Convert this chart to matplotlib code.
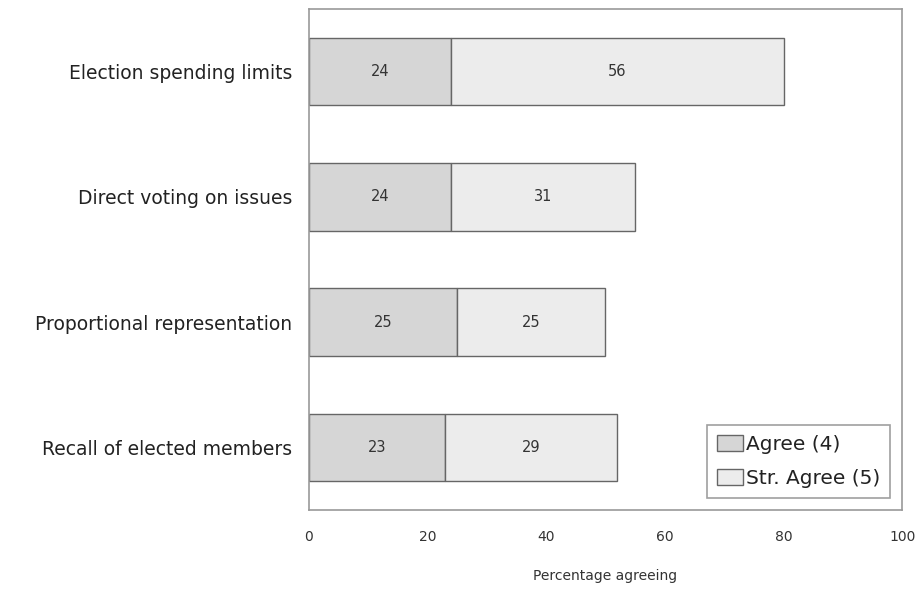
import matplotlib.pyplot as plt

# Survey items, top to bottom
categories = ['Election spending limits', 'Direct voting on issues',
              'Proportional representation', 'Recall of elected members']
agree = [24, 24, 25, 23]
str_agree = [56, 31, 25, 29]
xticks = [0, 20, 40, 60, 80, 100]

fig = plt.figure(figsize=(9.16, 5.89), dpi=100)
ax = fig.add_axes([0.337, 0.134, 0.648, 0.851])

ypos = list(range(len(categories)))[::-1]

ax.barh(ypos, agree, height=0.54, color='#d6d6d6', edgecolor='#666666',
        linewidth=1, label='Agree (4)')
ax.barh(ypos, str_agree, left=agree, height=0.54, color='#ececec',
        edgecolor='#666666', linewidth=1, label='Str. Agree (5)')

# Values in the middle of each segment
for y, a, s in zip(ypos, agree, str_agree):
    ax.text(a / 2, y, str(a), ha='center', va='center', fontsize=10.5, color='#333333')
    ax.text(a + s / 2, y, str(s), ha='center', va='center', fontsize=10.5, color='#333333')

ax.set_xlim(0, 100)
ax.set_ylim(-0.5, 3.5)
ax.set_xticks(xticks)
ax.set_yticks(ypos)
ax.set_yticklabels(categories, fontsize=13.5, color='#222222')
ax.tick_params(axis='x', length=0, pad=14, labelsize=10, labelcolor='#333333')
ax.tick_params(axis='y', length=0, pad=12)
ax.set_xlabel('Percentage agreeing', fontsize=10, color='#333333', labelpad=18)

for sp in ax.spines.values():
    sp.set_color('#999999')
    sp.set_linewidth(1.2)

leg = ax.legend(loc='lower right', fontsize=14.5, fancybox=False, frameon=True,
                handlelength=1.3, handleheight=0.8, handletextpad=0.15,
                borderpad=0.5, labelspacing=0.75, borderaxespad=0,
                bbox_to_anchor=(0.980, 0.024))
leg.get_frame().set_edgecolor('#888888')
leg.get_frame().set_linewidth(1.2)
for t in leg.get_texts():
    t.set_color('#222222')

fig.savefig('out.png', dpi=100)
